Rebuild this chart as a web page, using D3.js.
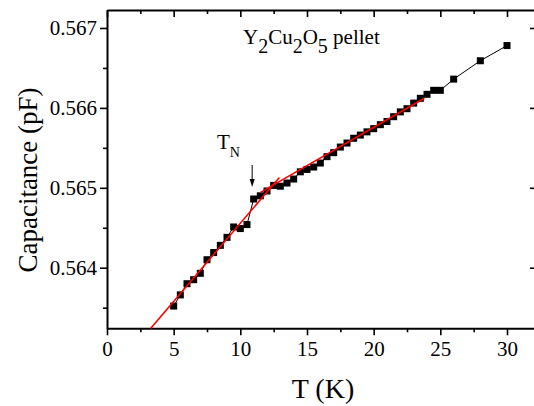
<!DOCTYPE html>
<html>
<head>
<meta charset="utf-8">
<script src="https://cdn.jsdelivr.net/npm/d3@7"></script>
<style>
  body { margin: 0; background: #fff; }
  text { font-family: "Liberation Serif", "DejaVu Serif", serif; fill: #000; }
</style>
</head>
<body>
<svg id="chart" width="534" height="406"></svg>
<script>
// measured temperatures (K) and capacitance (pF)
const temps = [5, 5.5, 6, 6.5, 7, 7.5, 8, 8.5, 9, 9.5, 10, 10.5, 11, 11.5, 12, 12.5, 13, 13.5,
  14, 14.5, 15, 15.5, 16, 16.5, 17, 17.5, 18, 18.5, 19, 19.5, 20, 20.5, 21, 21.5, 22, 22.5,
  23, 23.5, 24, 24.5, 25, 26, 28, 30];
const caps = [0.56352, 0.56366, 0.56380, 0.56385, 0.56393, 0.56410, 0.56419, 0.56428, 0.56438,
  0.56451, 0.56449, 0.56454, 0.56486, 0.56490, 0.56496, 0.56503, 0.56502, 0.56506, 0.56511,
  0.56520, 0.56523, 0.56526, 0.56531, 0.56539, 0.56544, 0.56551, 0.56556, 0.56562, 0.56566,
  0.56570, 0.56574, 0.56579, 0.56583, 0.56589, 0.56595, 0.56599, 0.56606, 0.56612, 0.56617,
  0.56622, 0.56622, 0.56636, 0.56659, 0.56678];

// linear fits below and above T_N
const fitLow = [[3.27, 0.56324], [12.93, 0.56513]];
const fitHigh = [[11.48, 0.56494], [23.8, 0.56612]];

const xTicks = [0, 5, 10, 15, 20, 25, 30];
const xMinor = [2.5, 7.5, 12.5, 17.5, 22.5, 27.5];
const yTicks = [0.564, 0.565, 0.566, 0.567];
const yMinor = [0.5635, 0.5645, 0.5655, 0.5665];
const tN = 11;

const svg = d3.select("#chart");
const mLeft = 107, mRight = 535, mTop = 10, mBottom = 328.3;

const x = d3.scaleLinear().domain([0, 32.1]).range([mLeft, mRight]);
const y = d3.scaleLinear().domain([0.563242, 0.567225]).range([mBottom, mTop]);

function styleAxis(g) {
  g.select(".domain").attr("stroke-width", 2);
  g.selectAll(".tick line").attr("stroke-width", 1.6);
  g.selectAll(".tick text").style("font-family", "Liberation Serif").style("font-size", "21px");
}

// bottom axis: labelled, outward ticks
svg.append("g")
  .attr("transform", "translate(0," + mBottom + ")")
  .call(d3.axisBottom(x).tickValues(xTicks).tickSize(7).tickSizeOuter(0).tickPadding(6))
  .call(styleAxis);
svg.append("g")
  .attr("transform", "translate(0," + mBottom + ")")
  .call(d3.axisBottom(x).tickValues(xMinor).tickSize(4).tickFormat(""))
  .call(g => g.select(".domain").remove())
  .call(styleAxis);

// top axis: inward ticks
svg.append("g")
  .attr("transform", "translate(0," + mTop + ")")
  .call(d3.axisBottom(x).tickValues(xTicks).tickSize(7).tickSizeOuter(0).tickFormat(""))
  .call(styleAxis);
svg.append("g")
  .attr("transform", "translate(0," + mTop + ")")
  .call(d3.axisBottom(x).tickValues(xMinor).tickSize(4).tickFormat(""))
  .call(g => g.select(".domain").remove())
  .call(styleAxis);

// left axis: labelled, outward ticks
svg.append("g")
  .attr("transform", "translate(" + mLeft + ",0)")
  .call(d3.axisLeft(y).tickValues(yTicks).tickSize(7).tickSizeOuter(0).tickPadding(3).tickFormat(d3.format(".3f")))
  .call(styleAxis);
svg.append("g")
  .attr("transform", "translate(" + mLeft + ",0)")
  .call(d3.axisLeft(y).tickValues(yMinor).tickSize(4).tickFormat(""))
  .call(g => g.select(".domain").remove())
  .call(styleAxis);

// right axis: inward ticks
svg.append("g")
  .attr("transform", "translate(" + mRight + ",0)")
  .call(d3.axisLeft(y).tickValues(yTicks).tickSize(5).tickSizeOuter(0).tickFormat(""))
  .call(styleAxis);

// data line and markers
const pts = temps.map((t, i) => [t, caps[i]]);
svg.append("path")
  .datum(pts)
  .attr("fill", "none")
  .attr("stroke", "#000")
  .attr("stroke-width", 1)
  .attr("d", d3.line().x(d => x(d[0])).y(d => y(d[1])));

svg.selectAll("rect.pt")
  .data(pts)
  .enter()
  .append("rect")
  .attr("class", "pt")
  .attr("x", d => x(d[0]) - 3.5)
  .attr("y", d => y(d[1]) - 3.5)
  .attr("width", 7)
  .attr("height", 7)
  .attr("fill", "#000");

// fits
[fitLow, fitHigh].forEach(f => {
  svg.append("path")
    .datum(f)
    .attr("fill", "none")
    .attr("stroke", "#ff0000")
    .attr("stroke-width", 1.6)
    .attr("d", d3.line().x(d => x(d[0])).y(d => y(d[1])));
});

// T_N arrow
const ax = x(tN) - 1.5;
svg.append("line")
  .attr("x1", ax).attr("x2", ax)
  .attr("y1", 165).attr("y2", 184)
  .attr("stroke", "#000").attr("stroke-width", 1);
svg.append("path")
  .attr("d", `M${ax - 2.5},179 L${ax + 2.5},179 L${ax},187 Z`)
  .attr("fill", "#000");

const tnLabel = svg.append("text")
  .attr("x", 217).attr("y", 148.5)
  .style("font-size", "21px");
tnLabel.append("tspan").text("T");
tnLabel.append("tspan").attr("dy", 8).style("font-size", "14px").text("N");

// sample label
const title = svg.append("text")
  .attr("x", 243).attr("y", 43.5)
  .style("font-size", "21px");
[["Y", 0], ["2", 1], ["Cu", 0], ["2", 1], ["O", 0], ["5", 1], [" pellet", 0]].forEach(([s, sub], i, arr) => {
  const prevSub = i > 0 ? arr[i - 1][1] : 0;
  title.append("tspan")
    .attr("dy", sub === prevSub ? 0 : (sub ? 9 : -9))
    .style("font-size", sub ? "20px" : "21px")
    .text(s);
});

// axis titles
svg.append("text")
  .attr("x", 323).attr("y", 398)
  .attr("text-anchor", "middle")
  .style("font-size", "28px")
  .text("T (K)");

svg.append("text")
  .attr("transform", "translate(37,180) rotate(-90)")
  .attr("text-anchor", "middle")
  .style("font-size", "27px")
  .text("Capacitance (pF)");
</script>
</body>
</html>
